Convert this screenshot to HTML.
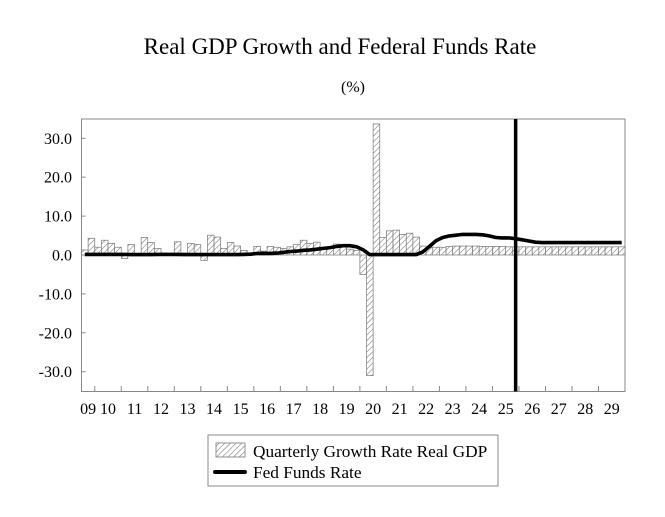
<!DOCTYPE html>
<html><head><meta charset="utf-8"><style>
body{margin:0;background:#fff;}
svg{display:block;font-family:"Liberation Serif",serif;}
</style></head><body>
<svg id="chart" width="665" height="517" viewBox="0 0 665 517">
<defs>
<pattern id="hatch" patternUnits="userSpaceOnUse" width="4" height="4" patternTransform="rotate(45)">
<rect width="4" height="4" fill="#fff"/><line x1="0" y1="0" x2="0" y2="4" stroke="#777" stroke-width="1.1"/>
</pattern>
</defs>
<text x="340" y="54" text-anchor="middle" font-size="23">Real GDP Growth and Federal Funds Rate</text>
<text x="353" y="92" text-anchor="middle" font-size="16">(%)</text>
<rect x="81.5" y="119" width="543.5" height="272.5" fill="none" stroke="#888" stroke-width="1"/>
<g id="bars"></g><g id="yaxis"></g><g id="xaxis"></g><g id="lines"></g>
<g>
<rect x="208" y="435" width="290" height="51" fill="#fff" stroke="#888" stroke-width="1"/>
<rect x="216" y="443" width="29" height="14" fill="url(#hatch)" stroke="#777" stroke-width="0.8"/>
<text x="253" y="457" font-size="17.3">Quarterly Growth Rate Real GDP</text>
<line x1="215" y1="472" x2="245" y2="472" stroke="#000" stroke-width="4" stroke-linecap="round"/>
<text x="253" y="478" font-size="17.3">Fed Funds Rate</text>
</g>
</svg>
<script>
const gdpGrowth=[1.3,4.3,2.0,3.8,3.0,2.0,-0.9,2.7,0.0,4.5,3.2,1.7,0.5,0.2,3.4,0.5,3.0,2.7,-1.4,5.1,4.6,1.7,3.2,2.3,1.2,0.5,2.2,1.0,2.2,2.0,1.7,2.1,2.7,3.8,3.0,3.3,1.7,2.1,2.8,2.1,1.5,1.2,-5.0,-31.0,33.7,4.5,6.2,6.4,5.3,5.6,4.6,2.3,2.0,2.0,2.0,2.2,2.3,2.3,2.3,2.3,2.2,2.2,2.2,2.2,2.1,2.1,2.1,2.1,2.1,2.1,2.1,2.1,2.1,2.1,2.1,2.1,2.1,2.1,2.1,2.1,2.1,2.1];
const fedFunds=[0.15,0.15,0.15,0.15,0.15,0.15,0.15,0.1,0.1,0.1,0.1,0.15,0.15,0.15,0.15,0.1,0.1,0.1,0.1,0.1,0.1,0.1,0.1,0.1,0.15,0.2,0.4,0.4,0.4,0.5,0.7,0.9,1.0,1.2,1.3,1.5,1.7,1.9,2.2,2.4,2.4,2.1,1.3,0.1,0.1,0.1,0.1,0.1,0.1,0.1,0.1,0.8,2.2,3.7,4.5,4.9,5.1,5.3,5.3,5.3,5.2,4.9,4.5,4.4,4.4,4.2,3.9,3.6,3.3,3.2,3.2,3.2,3.2,3.2,3.2,3.2,3.2,3.2,3.2,3.2,3.2,3.2];
const yTicks=[30,20,10,0,-10,-20,-30];
const yTickLabels=["30.0","20.0","10.0","0.0","-10.0","-20.0","-30.0"];
const yearLabels=["09","10","11","12","13","14","15","16","17","18","19","20","21","22","23","24","25","26","27","28","29"];
const startYear=2009, startQuarter=3;
const forecastStart=65.5;
const NS="http://www.w3.org/2000/svg";
const X0=81.5,X1=625,N=gdpGrowth.length,QW=(X1-X0)/N;
const xq=i=>X0+i*QW;
const y=v=>255-v*3.89;
function mk(t,a,p){const e=document.createElementNS(NS,t);for(const k in a)e.setAttribute(k,a[k]);p.appendChild(e);return e;}
const bars=document.getElementById('bars');
gdpGrowth.forEach((v,i)=>{const r=mk('rect',{x:xq(i),y:Math.min(y(v),y(0)),width:QW,height:Math.abs(y(v)-y(0)),fill:'url(#hatch)',stroke:'#777','stroke-width':0.7},bars);

});
const ya=document.getElementById('yaxis');
yTicks.forEach((v,i)=>{mk('line',{x1:X0,x2:X0+4,y1:y(v),y2:y(v),stroke:'#888'},ya);
const t=mk('text',{x:72,y:y(v)+5.5,'text-anchor':'end','font-size':16},ya);t.textContent=yTickLabels[i];

});
const xa=document.getElementById('xaxis');
const off=(5-startQuarter)%4;
yearLabels.forEach((l,k)=>{const s=k===0?X0:xq(off+(k-1)*4);const e=Math.min(X1,xq(off+k*4));
if(k>0)mk('line',{x1:s,x2:s,y1:391.5,y2:386,stroke:'#888'},xa);
const t=mk('text',{x:k===0?(X0+xq(off))/2:(s+e)/2,y:414,'text-anchor':'middle','font-size':16},xa);t.textContent=l;

});
const ln=document.getElementById('lines');
const p=mk('polyline',{points:fedFunds.map((v,i)=>(xq(i+0.5)).toFixed(1)+','+y(v).toFixed(1)).join(' '),fill:'none',stroke:'#000','stroke-width':3.6,'stroke-linejoin':'round'},ln);


const vl=mk('line',{x1:xq(forecastStart),x2:xq(forecastStart),y1:119,y2:391.5,stroke:'#000','stroke-width':3.5},ln);


</script>
</body></html>
